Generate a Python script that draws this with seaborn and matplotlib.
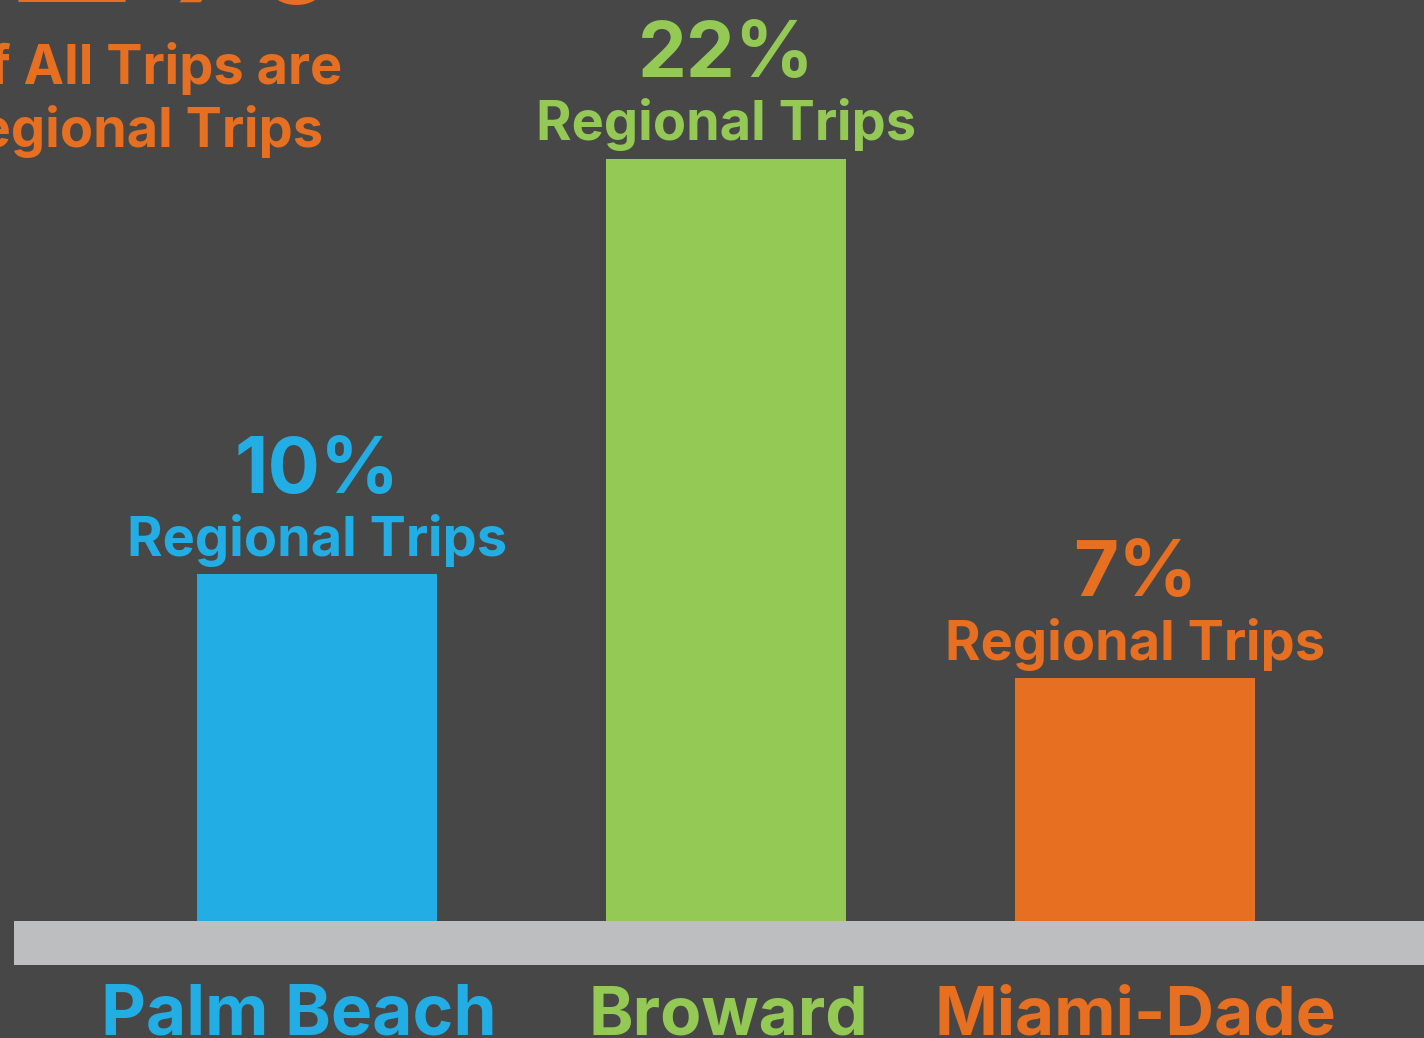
import matplotlib.pyplot as plt
import pandas as pd
import seaborn as sns

counties = ["Palm Beach", "Broward", "Miami-Dade"]
regional_share = [10, 22, 7]
bar_colors = ["#22aee4", "#95c955", "#e66f22"]

bg = "#474747"
band = "#bdbec0"
font = "Inter"

df = pd.DataFrame({"county": counties, "share": regional_share})

sns.set_theme(style="white")
plt.rcParams["font.family"] = [font, "DejaVu Sans"]

fig = plt.figure(figsize=(14.24, 10.38), dpi=100, facecolor=bg)
ax = fig.add_axes([0, 0, 1, 1])
ax.set_facecolor(bg)

sns.barplot(data=df, x="county", y="share", hue="county", palette=bar_colors,
            width=0.587, saturation=1, legend=False, linewidth=0, ax=ax)

# pixel-ish scale: ~34.65 px per percent, baseline 117 px above bottom
ax.set_xlim(-0.775, 2.706)
ax.set_ylim(-3.377, 26.58)
ax.axhspan(-1.27, 0, xmin=14 / 1424, xmax=1, color=band, lw=0, zorder=0.5)

# the county names are not quite centred under their bars
name_shift = [-0.045, 0.005, 0]
name_size = [50, 48.5, 48.5]

for i, (name, v, c) in enumerate(zip(counties, regional_share, bar_colors)):
    ax.annotate(f"{v}%", xy=(i, v), xytext=(0, 59), textcoords="offset points",
                ha="center", va="baseline", fontsize=56, fontweight="bold", color=c)
    ax.annotate("Regional Trips", xy=(i, v), xytext=(0, 13.5), textcoords="offset points",
                ha="center", va="baseline", fontsize=39, fontweight="bold", color=c)
    ax.text(i + name_shift[i], -3.29, name, ha="center", va="baseline",
            fontsize=name_size[i], fontweight="bold", color=c)

# headline cut off at the top-left corner
orange = bar_colors[2]
fig.text(0.245, 0.9985, "12%", ha="right", va="baseline", fontsize=150,
         fontweight="bold", color=orange)
fig.text(0.2402, 0.919, "of All Trips are", ha="right", va="baseline", fontsize=39,
         fontweight="bold", color=orange)
fig.text(0.2268, 0.858, "Regional Trips", ha="right", va="baseline", fontsize=39,
         fontweight="bold", color=orange)

ax.set_axis_off()
fig.savefig("out.png", dpi=100, facecolor=bg)
